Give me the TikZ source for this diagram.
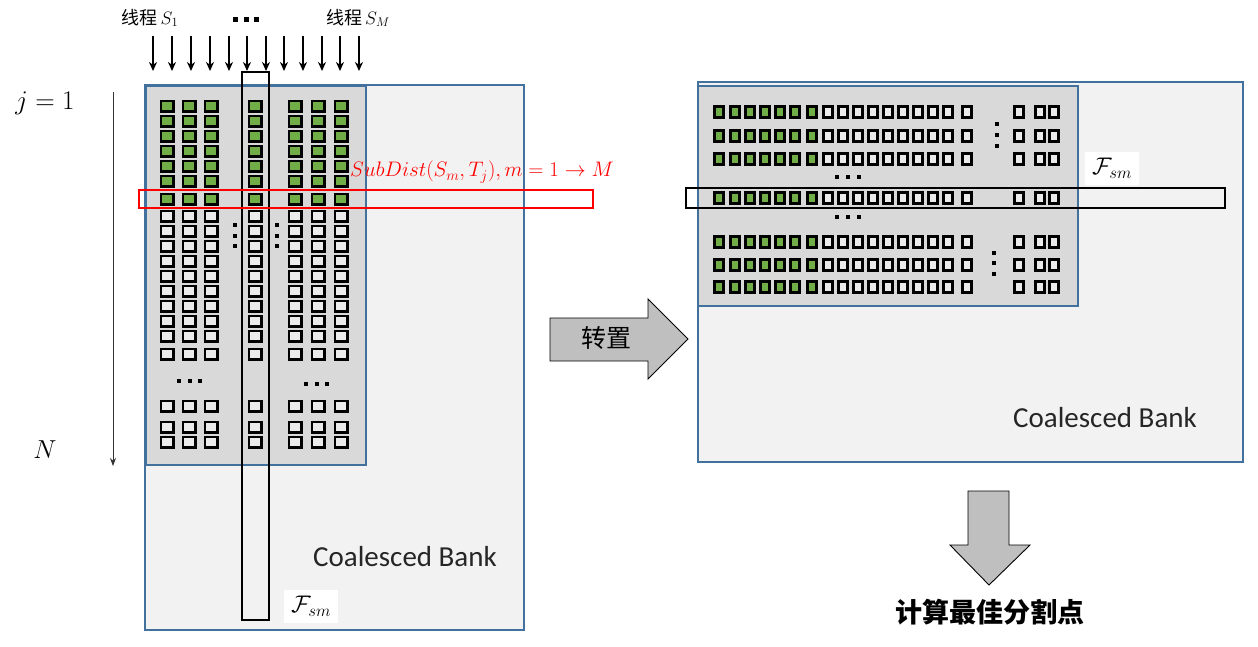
\RequirePackage{fix-cm}
\documentclass[tikz,border=0pt]{standalone}
\usepackage{fontspec}
\newfontfamily\cjk{Noto Sans CJK SC}
\newfontfamily\calibri{Carlito}
\usetikzlibrary{arrows.meta}
\definecolor{bankblue}{HTML}{41719C}
\definecolor{outerfill}{HTML}{F2F2F2}
\definecolor{innerfill}{HTML}{D9D9D9}
\definecolor{cellgreen}{HTML}{70AD47}
\definecolor{cellwhite}{HTML}{EBEBEB}
\definecolor{arrowgray}{HTML}{BFBFBF}
\tikzset{
  outerbox/.style={draw=bankblue, line width=1.6pt, fill=outerfill},
  innerbox/.style={draw=bankblue, line width=1.6pt, fill=innerfill},
  lcell/.style={draw=black, line width=2.6pt, inner sep=0pt, minimum width=12.4pt, minimum height=10.4pt},
  rcell/.style={draw=black, line width=2.6pt, inner sep=0pt, minimum width=9.4pt, minimum height=11.4pt},
  gcell/.style={fill=cellgreen},
  wcell/.style={fill=cellwhite},
  dotmark/.style={fill=black, inner sep=0pt, minimum size=4pt},
  bigdot/.style={fill=black, inner sep=0pt, minimum size=5pt},
  thread/.style={line width=2pt, -{Stealth[length=9pt,width=8pt]}},
  blockarrow/.style={draw=black, line width=0.9pt, fill=arrowgray},
  fsm/.style={fill=white, inner sep=0pt, minimum width=54pt, minimum height=33pt, font=\fontsize{24}{24}\selectfont},
  banklabel/.style={font=\calibri\fontsize{29}{29}\selectfont, text=black!85},
}
\begin{document}
\begin{tikzpicture}[x=1pt,y=-1pt]
\useasboundingbox (0,0) rectangle (1258,646);

% ---------------- left part ----------------
\draw[outerbox] (145,85) rectangle (524,630);
\draw[innerbox] (146,86) rectangle (366,465);

% index arrow
\node (j1) at (45,103) {\fontsize{27}{27}\selectfont $j=1$};
\node (nN) at (45,450) {\fontsize{26}{26}\selectfont $N$};
\coordinate (jtop) at (113,92);
\coordinate (jbot) at (113,466);
\draw[black!80, line width=0.8pt, -{Stealth[length=8pt,width=6pt]}] (jtop) -- (jbot);

% thread labels and arrows
\node (t1) at (150,18) {\fontsize{18}{18}\selectfont\cjk 线程\,\normalfont$S_1$};
\node (tm) at (358,18) {\fontsize{18}{18}\selectfont\cjk 线程\,\normalfont$S_M$};
\foreach \x [count=\i] in {153,172,191,210,229,247,266,284,303,322,340,359} {
  \coordinate (ta\i) at (\x,36);
  \coordinate (tb\i) at (\x,71);
  \draw[thread] (ta\i) -- (tb\i);
}
\foreach \x [count=\i] in {235,246,256} \node[bigdot] (td\i) at (\x,19) {};

% left cells
\foreach \y [count=\r] in {106,121,136,151,166,181,199}
  \foreach \x [count=\c] in {167,189,211,255,295,318,341}
    \node[lcell,gcell] (lg\r-\c) at (\x,\y) {};
\foreach \y [count=\r] in {216,231,246,261,276,291,306,321,336,354,406,427,442}
  \foreach \x [count=\c] in {167,189,211,255,295,318,341}
    \node[lcell,wcell] (lw\r-\c) at (\x,\y) {};

% left dots
\foreach \y [count=\i] in {225,236,246} {
  \node[dotmark] (lva\i) at (235,\y) {};
  \node[dotmark] (lvb\i) at (277,\y) {};
}
\foreach \x [count=\i] in {179,190,200} \node[dotmark] (lha\i) at (\x,381) {};
\foreach \x [count=\i] in {306,317,327} \node[dotmark] (lhb\i) at (\x,384) {};

% highlight rectangles
\draw[black, line width=1.6pt] (242,72) rectangle (269,620);
\draw[red, line width=1.6pt] (139,190) rectangle (593,208);
\node[text=red] (sub) at (482,172) {\fontsize{21}{21}\selectfont $SubDist(S_m,T_j),m=1\rightarrow M$};

\node[banklabel] (bankL) at (405,557) {Coalesced Bank};
\node[fsm] (fsmL) at (311,606) {$\mathcal{F}_{sm}$};

% ---------------- transpose arrow ----------------
\draw[blockarrow] (550,318) -- (648,318) -- (648,299) -- (688,339) -- (648,379) -- (648,361) -- (550,361) -- cycle;
\node (tr) at (606,338) {\fontsize{25}{25}\selectfont\cjk 转置};

% ---------------- right part ----------------
\draw[outerbox] (698,82) rectangle (1243,462);
\draw[innerbox] (698,86) rectangle (1078,306);

\foreach \y [count=\r] in {112,136,159,198,242,265,287} {
  \foreach \x [count=\c] in {719,735,750,765,780,795,812}
    \node[rcell,gcell] (rg\r-\c) at (\x,\y) {};
  \foreach \x [count=\c] in {828,843,858,873,888,903,918,933,948,967,1019,1040,1054}
    \node[rcell,wcell] (rw\r-\c) at (\x,\y) {};
}
\foreach \x [count=\i] in {837,848,859} {
  \node[dotmark] (rha\i) at (\x,177) {};
  \node[dotmark] (rhb\i) at (\x,217) {};
}
\foreach \y [count=\i] in {124,135,146} \node[dotmark] (rva\i) at (997,\y) {};
\foreach \y [count=\i] in {253,263,274} \node[dotmark] (rvb\i) at (994,\y) {};

\draw[black, line width=1.6pt] (686,188) rectangle (1225,208);
\node[fsm] (fsmR) at (1112,168) {$\mathcal{F}_{sm}$};
\node[banklabel] (bankR) at (1105,418) {Coalesced Bank};

% ---------------- down arrow ----------------
\draw[blockarrow] (968,491) -- (1009,491) -- (1009,545) -- (1030,545) -- (989,585) -- (950,545) -- (968,545) -- cycle;
\node (calc) at (990,612) {\fontsize{27}{27}\selectfont\cjk\bfseries 计算最佳分割点};
\end{tikzpicture}
\end{document}
